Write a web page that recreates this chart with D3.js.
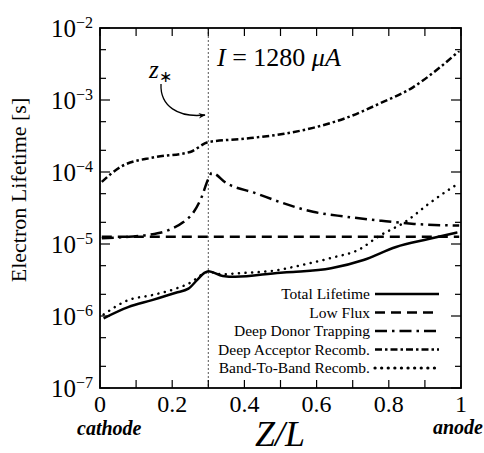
<!DOCTYPE html>
<meta charset="utf-8">
<style>
body { margin: 0; background: #fff; }
text { font-family: "Liberation Serif", "Times New Roman", serif; fill: #000; }
.line { fill: none; stroke: #000; stroke-width: 2.5px; }
.frame { fill: none; stroke: #000; stroke-width: 1.8px; }
.tick { stroke: #000; stroke-width: 1.2px; }
</style>
<svg width="484" height="453"></svg>
<script src="https://cdn.jsdelivr.net/npm/d3@7"></script>
<script>

// values: [Z/L, lifetime in s]
var totalLifetime = [[0.01,9.3e-7],[0.078,1.33e-6],[0.144,1.66e-6],[0.21,2.1e-6],[0.245,2.4e-6],[0.27,3.2e-6],[0.29,4.0e-6],[0.30,4.2e-6],[0.34,3.6e-6],[0.375,3.5e-6],[0.50,4.0e-6],[0.535,4.1e-6],[0.64,4.6e-6],[0.73,6.0e-6],[0.82,9.1e-6],[0.91,1.17e-5],[0.99,1.45e-5]];
var lowFlux = [[0.005,1.26e-5],[0.995,1.26e-5]];
var deepDonor = [[0.005,1.2e-5],[0.08,1.26e-5],[0.135,1.34e-5],[0.19,1.56e-5],[0.23,2.0e-5],[0.26,2.8e-5],[0.28,4.3e-5],[0.30,8.0e-5],[0.31,9.7e-5],[0.35,7.0e-5],[0.43,5.1e-5],[0.50,3.8e-5],[0.59,2.8e-5],[0.68,2.4e-5],[0.78,2.1e-5],[0.87,1.9e-5],[0.995,1.8e-5]];
var deepAcceptor = [[0.005,7.3e-5],[0.06,1.2e-4],[0.15,1.6e-4],[0.25,1.9e-4],[0.30,2.6e-4],[0.40,2.9e-4],[0.51,3.4e-4],[0.59,4.1e-4],[0.68,5.6e-4],[0.776,9e-4],[0.867,1.5e-3],[0.94,2.8e-3],[0.995,4.8e-3]];
var bandToBand = [[0.01,1.05e-6],[0.078,1.66e-6],[0.144,1.95e-6],[0.21,2.4e-6],[0.255,3.0e-6],[0.28,3.7e-6],[0.30,4.1e-6],[0.34,3.8e-6],[0.375,3.9e-6],[0.50,4.4e-6],[0.535,4.8e-6],[0.64,6.4e-6],[0.72,8.5e-6],[0.77,1.26e-5],[0.85,2.1e-5],[0.91,3.6e-5],[0.978,6.2e-5],[0.995,7e-5]];

var seriesNames = ["Total Lifetime", "Low Flux", "Deep Donor Trapping", "Deep Acceptor Recomb.", "Band-To-Band Recomb."];
var xTickLabels = ["0", "0.2", "0.4", "0.6", "0.8", "1"];
var yExponents = [-7, -6, -5, -4, -3, -2];
var zStar = 0.3;

var svg = d3.select("svg"),
    margin = {top: 28, right: 23, bottom: 65, left: 100},
    width = svg.attr("width") - margin.left - margin.right,
    height = svg.attr("height") - margin.top - margin.bottom,
    g = svg.append("g").attr("transform", "translate(" + margin.left + "," + margin.top + ")");

var x = d3.scaleLinear().domain([0, 1]).range([0, width]),
    y = d3.scaleLog().domain([1e-7, 1e-2]).range([height, 0]);

var series = [
  {name: seriesNames[0], values: totalLifetime, dash: null, w: 2.7},
  {name: seriesNames[1], values: lowFlux, dash: "10,6", w: 2.7},
  {name: seriesNames[2], values: deepDonor, dash: "12,5,2.5,5", w: 2.7},
  {name: seriesNames[3], values: deepAcceptor, dash: "7,3,2.5,3", w: 2.5},
  {name: seriesNames[4], values: bandToBand, dash: "0.1,6.5", w: 3.2, cap: "round"}
];

var line = d3.line()
    .curve(d3.curveMonotoneX)
    .x(function(d) { return x(d[0]); })
    .y(function(d) { return y(d[1]); });

// z* marker
g.append("line")
    .attr("x1", x(zStar)).attr("x2", x(zStar))
    .attr("y1", 0).attr("y2", height)
    .attr("stroke", "#555").attr("stroke-width", 1)
    .attr("stroke-dasharray", "2,2");

// ticks
var xTicks = d3.range(0, 11).map(function(i) { return i / 10; });
xTicks.forEach(function(t) {
  g.append("line").attr("class", "tick").attr("x1", x(t)).attr("x2", x(t)).attr("y1", height).attr("y2", height - 8);
  g.append("line").attr("class", "tick").attr("x1", x(t)).attr("x2", x(t)).attr("y1", 0).attr("y2", 8);
});

var yTicks = [];
yExponents.forEach(function(e) {
  yTicks.push({v: Math.pow(10, e), major: true});
  if (e < -2) {
    yTicks.push({v: 2 * Math.pow(10, e), major: false});
    yTicks.push({v: 5 * Math.pow(10, e), major: false});
  }
});
yTicks.forEach(function(t) {
  var len = t.major ? 10 : 6;
  g.append("line").attr("class", "tick").attr("x1", 0).attr("x2", len).attr("y1", y(t.v)).attr("y2", y(t.v));
  g.append("line").attr("class", "tick").attr("x1", width).attr("x2", width - len).attr("y1", y(t.v)).attr("y2", y(t.v));
});

g.append("rect").attr("class", "frame").attr("width", width).attr("height", height);

// tick labels
g.selectAll(".xlab")
  .data(xTickLabels)
  .enter().append("text")
    .attr("x", function(d) { return x(+d); })
    .attr("y", height + 24)
    .attr("text-anchor", "middle")
    .style("font-size", "24px")
    .text(function(d) { return d; });

var ylab = g.selectAll(".ylab")
  .data(yExponents)
  .enter().append("text")
    .attr("x", -7)
    .attr("y", function(d) { return y(Math.pow(10, d)) + 9; })
    .attr("text-anchor", "end")
    .style("font-size", "25px");
ylab.append("tspan").text("10");
ylab.append("tspan")
    .attr("dy", -9)
    .style("font-size", "16px")
    .text(function(d) { return "\u2212" + (-d); });

// curves
g.selectAll(".series")
  .data(series)
  .enter().append("path")
    .attr("class", "line")
    .attr("d", function(d) { return line(d.values); })
    .attr("stroke-width", function(d) { return d.w; })
    .attr("stroke-dasharray", function(d) { return d.dash; })
    .attr("stroke-linecap", function(d) { return d.cap || "butt"; });

// legend
var legend = g.selectAll(".legend")
  .data(series)
  .enter().append("g")
    .attr("transform", function(d, i) { return "translate(270," + (266 + i * 18.5) + ")"; });
legend.append("text")
    .attr("x", 0)
    .attr("dy", "0.35em")
    .attr("text-anchor", "end")
    .style("font-size", "15.5px")
    .text(function(d) { return d.name; });
legend.append("line")
    .attr("x1", 5).attr("x2", 69)
    .attr("stroke", "#000")
    .attr("stroke-width", function(d) { return d.w; })
    .attr("stroke-dasharray", function(d) { return d.dash; })
    .attr("stroke-linecap", function(d) { return d.cap || "butt"; });

// annotations
var title = g.append("text")
    .attr("x", 117).attr("y", 38)
    .style("font-size", "26px");
title.append("tspan").style("font-style", "italic").text("I");
title.append("tspan").text(" = 1280 ");
title.append("tspan").style("font-style", "italic").text("\u03bcA");

var zs = g.append("text")
    .attr("x", 49).attr("y", 50)
    .style("font-size", "25px")
    .style("font-style", "italic");
zs.append("tspan").text("z");
zs.append("tspan").attr("dy", 4).style("font-size", "16px").style("font-style", "normal").text("\u2217");

svg.append("defs").append("marker")
    .attr("id", "arrow")
    .attr("viewBox", "0 0 10 10")
    .attr("refX", 9).attr("refY", 5)
    .attr("markerWidth", 7).attr("markerHeight", 7)
    .attr("markerUnits", "userSpaceOnUse")
    .attr("orient", "auto")
  .append("path")
    .attr("d", "M0,1 L10,5 L0,9 L3,5 Z")
    .attr("fill", "#000");

g.append("path")
    .attr("d", "M61,56 C60,78 78,90 105,87")
    .attr("fill", "none")
    .attr("stroke", "#000")
    .attr("stroke-width", 1.3)
    .attr("marker-end", "url(#arrow)");

// axis titles
svg.append("text")
    .attr("transform", "translate(26," + (margin.top + 162) + ") rotate(-90)")
    .attr("text-anchor", "middle")
    .style("font-size", "22px")
    .text("Electron Lifetime [s]");

svg.append("text")
    .attr("x", 280).attr("y", 446)
    .attr("text-anchor", "middle")
    .style("font-size", "36px")
    .style("font-style", "italic")
    .text("Z/L");

svg.append("text")
    .attr("x", 77).attr("y", 435)
    .style("font-size", "20px")
    .style("font-style", "italic")
    .style("font-weight", "bold")
    .text("cathode");

svg.append("text")
    .attr("x", 483).attr("y", 434)
    .attr("text-anchor", "end")
    .style("font-size", "20px")
    .style("font-style", "italic")
    .style("font-weight", "bold")
    .text("anode");

</script>
